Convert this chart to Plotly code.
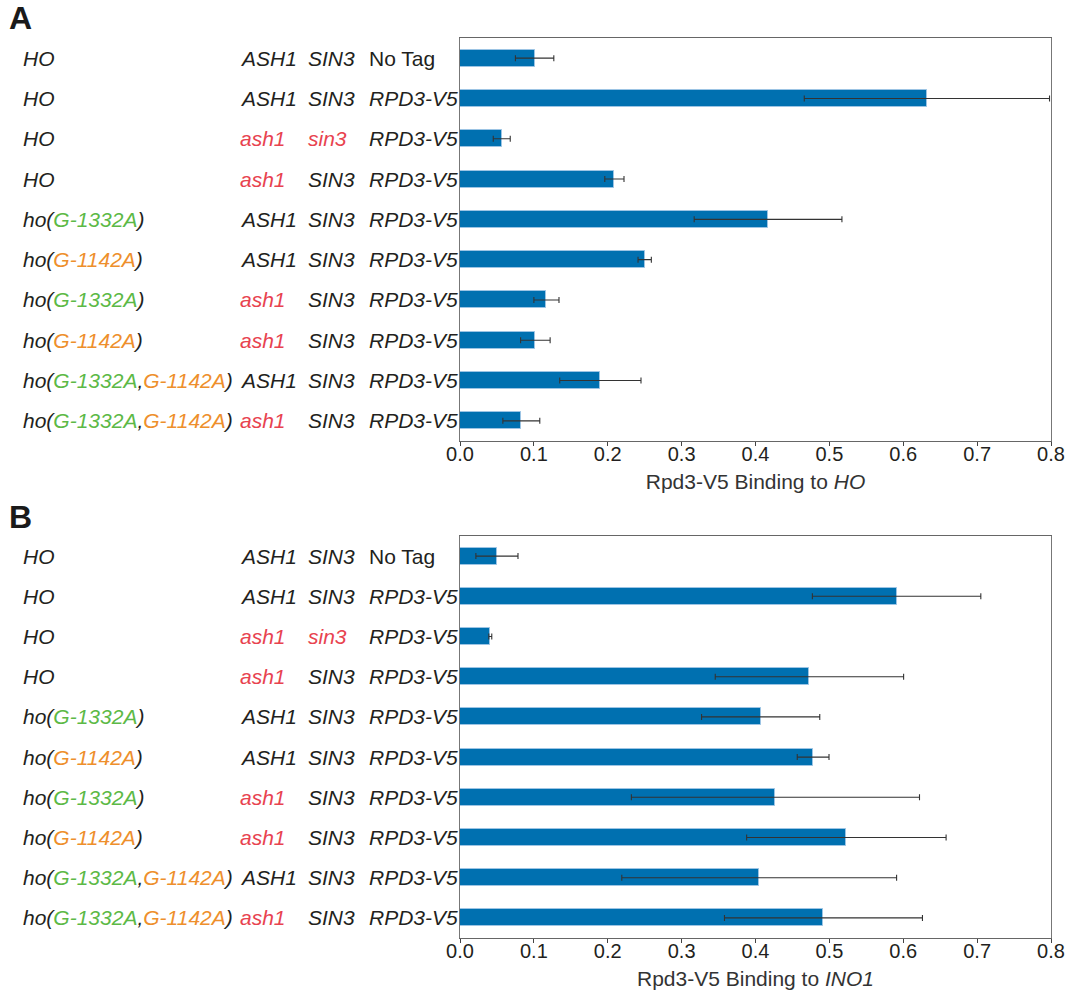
import plotly.graph_objects as go

# ---------------- data ----------------
promoter = ["HO", "HO", "HO", "HO", "ho(G-1332A)", "ho(G-1142A)", "ho(G-1332A)",
            "ho(G-1142A)", "ho(G-1332A,G-1142A)", "ho(G-1332A,G-1142A)"]
ash_gene = ["ASH1", "ASH1", "ash1", "ash1", "ASH1", "ASH1", "ash1", "ash1", "ASH1", "ash1"]
sin_gene = ["SIN3", "SIN3", "sin3", "SIN3", "SIN3", "SIN3", "SIN3", "SIN3", "SIN3", "SIN3"]
tag = ["No Tag", "RPD3-V5", "RPD3-V5", "RPD3-V5", "RPD3-V5", "RPD3-V5", "RPD3-V5",
       "RPD3-V5", "RPD3-V5", "RPD3-V5"]

ho_binding = [0.101, 0.632, 0.0565, 0.209, 0.417, 0.250, 0.117, 0.102, 0.190, 0.083]
ho_error = [0.026, 0.166, 0.0115, 0.013, 0.100, 0.009, 0.017, 0.020, 0.055, 0.025]

ino1_binding = [0.050, 0.591, 0.041, 0.473, 0.407, 0.478, 0.427, 0.523, 0.405, 0.492]
ino1_error = [0.0285, 0.114, 0.002, 0.1275, 0.080, 0.0215, 0.195, 0.135, 0.186, 0.134]

x_ticks = [0.0, 0.1, 0.2, 0.3, 0.4, 0.5, 0.6, 0.7, 0.8]

# ---------------- style ----------------
BAR = "#0070b0"
RED = "#e8434f"
GREEN = "#5cb946"
ORANGE = "#ee8f2c"
TXT = "#231f20"
FONT = "Liberation Sans, Arial, sans-serif"
FS = 21

W, H = 1070, 993
ML, MR, MT, MB = 460, 19, 38, 55
PW = W - ML - MR
PH = H - MT - MB
col_px = [21, 238, 306, 367]  # left edges of label columns (pixels)


def px_to_paper_x(px):
    return (px - ML) / PW


def py_to_paper_y(py):
    return (H - MB - py) / PH


def fmt_promoter(s):
    s = s.replace("G-1332A", f"<span style='color:{GREEN}'>G-1332A</span>")
    s = s.replace("G-1142A", f"<span style='color:{ORANGE}'>G-1142A</span>")
    return f"<i>{s}</i>"


def fmt_gene(s):
    if s.islower():
        return f"<i><span style='color:{RED}'>{s}</span></i>"
    return f"<i>{s}</i>"


def fmt_tag(s):
    return s if s == "No Tag" else f"<i>{s}</i>"


rows = list(range(len(promoter)))

fig = go.Figure()
panels = [
    ("x", "y", ho_binding, ho_error),
    ("x2", "y2", ino1_binding, ino1_error),
]
for xa, ya, vals, errs in panels:
    fig.add_trace(go.Bar(
        x=vals, y=rows, orientation="h", xaxis=xa, yaxis=ya,
        width=0.42,
        marker=dict(color=BAR, line=dict(color="#9cc4e4", width=1)),
        error_x=dict(type="data", array=errs, visible=True,
                     color="#333333", thickness=1.1, width=3),
        showlegend=False, hoverinfo="x",
    ))

annotations = []
for ya in ["y", "y2"]:
    for i in rows:
        texts = [fmt_promoter(promoter[i]), fmt_gene(ash_gene[i]),
                 fmt_gene(sin_gene[i]), fmt_tag(tag[i])]
        for cx, t in zip(col_px, texts):
            annotations.append(dict(
                x=px_to_paper_x(cx), xref="paper", y=i, yref=ya,
                text=t, showarrow=False, xanchor="left", yanchor="middle",
                font=dict(family=FONT, size=FS, color=TXT),
            ))

for letter, py in [("A", 18), ("B", 517)]:
    annotations.append(dict(
        x=px_to_paper_x(7), xref="paper", y=py_to_paper_y(py), yref="paper",
        text=f"<b>{letter}</b>", showarrow=False, xanchor="left", yanchor="middle",
        font=dict(family=FONT, size=32, color="#1a1a1a"),
    ))

dom_a = [py_to_paper_y(441), 1.0]
dom_b = [0.0, py_to_paper_y(536)]

axis_common = dict(
    range=[0, 0.8], tickvals=x_ticks, tickformat=".1f",
    ticks="outside", ticklen=4, tickcolor="#444", tickwidth=1,
    ticklabelstandoff=-9,
    showline=True, linecolor="#666", linewidth=1, mirror=True,
    showgrid=False, zeroline=False, automargin=False,
    tickfont=dict(family=FONT, size=20, color=TXT),
)
yaxis_common = dict(
    range=[9.5, -0.5], showticklabels=False, ticks="",
    showline=True, linecolor="#777", linewidth=1, mirror=True,
    showgrid=False, zeroline=False, automargin=False,
)

fig.update_layout(
    width=W, height=H,
    margin=dict(l=ML, r=MR, t=MT, b=MB),
    paper_bgcolor="white", plot_bgcolor="white",
    bargap=0,
    xaxis=dict(**axis_common, anchor="y",
               title=dict(text="Rpd3-V5 Binding to <i>HO</i>", standoff=10,
                          font=dict(family=FONT, size=FS, color="#333"))),
    yaxis=dict(**yaxis_common, domain=dom_a, anchor="x"),
    xaxis2=dict(**axis_common, anchor="y2",
                title=dict(text="Rpd3-V5 Binding to <i>INO1</i>", standoff=10,
                           font=dict(family=FONT, size=FS, color="#333"))),
    yaxis2=dict(**yaxis_common, domain=dom_b, anchor="x2"),
    annotations=annotations,
)

fig.write_html("out.html")
